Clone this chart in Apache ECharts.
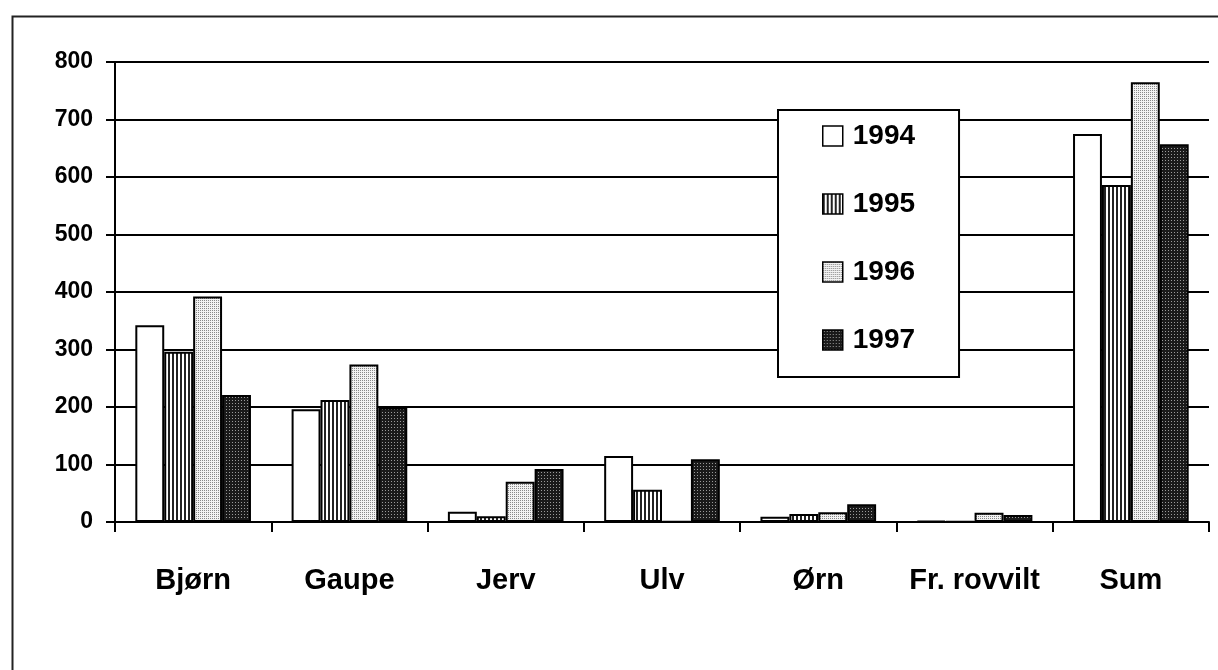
<!DOCTYPE html>
<html>
<head>
<meta charset="utf-8">
<script src="https://cdn.jsdelivr.net/npm/echarts@6/dist/echarts.min.js"></script>
<style>
html,body{margin:0;padding:0;background:#fff;}
#chart{width:1218px;height:670px;}
</style>
</head>
<body>
<div id="chart"></div>
<script>
var categories = ['Bjørn', 'Gaupe', 'Jerv', 'Ulv', 'Ørn', 'Fr. rovvilt', 'Sum'];
var seriesNames = ['1994', '1995', '1996', '1997'];
var v1994 = [342, 196, 18, 115, 9, 2, 675];
var v1995 = [296, 212, 10, 56, 14, 1, 586];
var v1996 = [392, 274, 70, 1, 17, 16, 765];
var v1997 = [221, 199, 92, 109, 31, 12, 657];
var yTicks = [0, 100, 200, 300, 400, 500, 600, 700, 800];

function makePattern(w, h, fillFn) {
  var c = document.createElement('canvas');
  c.width = w; c.height = h;
  var ctx = c.getContext('2d');
  fillFn(ctx);
  return { image: c, repeat: 'repeat' };
}
var patWhite = '#ffffff';
var patStripes = makePattern(4, 4, function (ctx) {
  ctx.fillStyle = '#fff'; ctx.fillRect(0, 0, 4, 4);
  ctx.fillStyle = '#222'; ctx.fillRect(0, 0, 2, 4);
});
var patLight = makePattern(2, 2, function (ctx) {
  ctx.fillStyle = '#f2f2f2'; ctx.fillRect(0, 0, 2, 2);
  ctx.fillStyle = '#888'; ctx.fillRect(0, 0, 1, 1);
});
var patDark = makePattern(3, 3, function (ctx) {
  ctx.fillStyle = '#1a1a1a'; ctx.fillRect(0, 0, 3, 3);
  ctx.fillStyle = '#9a9a9a'; ctx.fillRect(1, 1, 1, 1);
});
var fills = [patWhite, patStripes, patLight, patDark];
var values = [v1994, v1995, v1996, v1997];

var font = '"Liberation Sans", Arial, Helvetica, sans-serif';

var chart = echarts.init(document.getElementById('chart'), null, { renderer: 'canvas' });
var series = seriesNames.map(function (name, i) {
  return {
    name: name,
    type: 'bar',
    data: values[i],
    barGap: '0%',
    barCategoryGap: '26%',
    itemStyle: { color: fills[i], borderColor: '#000', borderWidth: 2 },
    emphasis: { disabled: true }
  };
});

chart.setOption({
  animation: false,
  backgroundColor: '#ffffff',
  textStyle: { fontFamily: font },
  grid: { left: 115, right: 9, top: 62, bottom: 148, containLabel: false },
  graphic: [{
    type: 'rect', left: 10, top: 14, z: -10, silent: true,
    shape: { width: 1300, height: 700 },
    style: { fill: 'none', stroke: '#222', lineWidth: 2 }
  }],
  legend: {
    orient: 'vertical',
    left: 778, top: 110,
    padding: [12, 44, 23, 44],
    itemGap: 40,
    itemWidth: 20, itemHeight: 20,
    backgroundColor: '#fff',
    borderColor: '#000', borderWidth: 2,
    icon: 'rect',
    selectedMode: false,
    data: seriesNames,
    itemStyle: { borderColor: '#000', borderWidth: 1.5 },
    textStyle: { fontFamily: font, fontWeight: 'bold', fontSize: 28, lineHeight: 28, color: '#000', padding: [0, 0, 0, 5] }
  },
  xAxis: {
    type: 'category',
    data: categories,
    axisLine: { lineStyle: { color: '#000', width: 2 } },
    axisTick: { show: true, interval: 0, length: 10, lineStyle: { color: '#000', width: 2 } },
    axisLabel: { interval: 0, margin: 44, fontFamily: font, fontWeight: 'bold', fontSize: 29, color: '#000' }
  },
  yAxis: {
    type: 'value',
    min: 0, max: 800, interval: 100,
    axisLine: { show: true, lineStyle: { color: '#000', width: 2 } },
    axisTick: { show: true, length: 9, lineStyle: { color: '#000', width: 2 } },
    splitLine: { show: true, lineStyle: { color: '#000', width: 2 } },
    axisLabel: {
      margin: 22, fontFamily: font, fontWeight: 'bold', fontSize: 23, color: '#000',
      formatter: function (v) { return yTicks.indexOf(v) >= 0 ? String(v) : ''; }
    }
  },
  series: series
});
</script>
</body>
</html>
